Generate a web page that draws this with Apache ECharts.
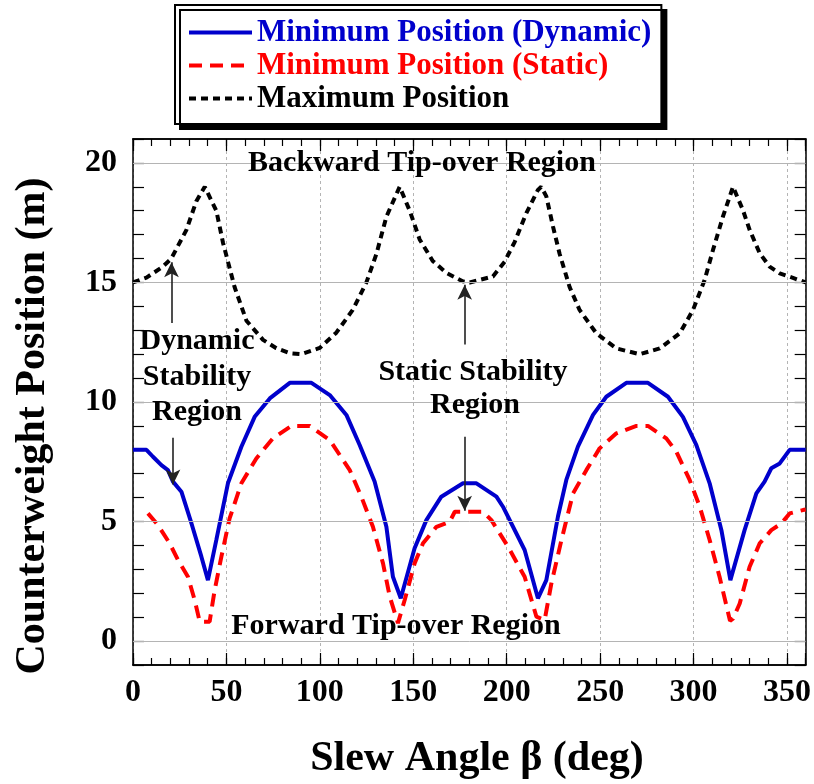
<!DOCTYPE html>
<html><head><meta charset="utf-8">
<script src="https://cdn.jsdelivr.net/npm/echarts@6/dist/echarts.min.js"></script>
<style>html,body{margin:0;padding:0;background:#fff}#c{width:814px;height:784px}</style>
</head><body><div id="c"></div>
<script>
// ---- data ----
const dynAngle = [0, 7.2, 10.7, 15.2, 18.7, 21.4, 25.9, 31.3, 36.6, 40.1, 44.6, 50.8, 58.0, 65.1, 73.2, 83.9, 95.5, 105.3, 114.2, 121.3, 129.3, 135.6, 139.1, 143.3, 150.7, 157.0, 165.0, 176.6, 183.8, 194.5, 198.0, 209.6, 216.7, 221.2, 227.4, 231.9, 238.1, 246.2, 253.3, 264.0, 275.6, 286.3, 294.3, 301.5, 308.6, 314.9, 319.7, 327.3, 333.6, 338.0, 341.6, 346.1, 351.4, 360];
const dynValue = [8.0, 8.0, 7.71, 7.36, 7.15, 6.67, 6.25, 4.92, 3.53, 2.55, 4.23, 6.6, 8.13, 9.38, 10.15, 10.8, 10.8, 10.29, 9.46, 8.2, 6.67, 4.78, 2.69, 1.79, 3.88, 5.06, 6.04, 6.6, 6.6, 6.04, 5.62, 3.81, 1.79, 2.55, 5.2, 6.74, 8.13, 9.46, 10.22, 10.8, 10.8, 10.22, 9.38, 8.2, 6.6, 4.64, 2.55, 4.64, 6.18, 6.67, 7.23, 7.43, 8.0, 8.0];

const staAngle = [8.0, 13.4, 19.6, 24.1, 29.4, 33.0, 35.7, 41.0, 43.7, 47.3, 51.7, 58.0, 66.0, 74.9, 84.8, 94.6, 105.3, 116.0, 122.2, 128.4, 133.8, 137.4, 141.8, 145.4, 150.7, 155.2, 162.4, 169.5, 172.2, 180, 187.3, 191.8, 200.7, 209.6, 215.9, 220.3, 223.9, 229.3, 235.5, 242.6, 249.7, 258.7, 269.4, 275.6, 285.4, 290.8, 297.9, 303.3, 308.6, 313.9, 319.5, 321.1, 324.7, 330.0, 335.4, 341.6, 347.0, 351.4, 358.5, 360];
const staValue = [5.34, 4.85, 4.09, 3.39, 2.69, 1.72, 0.81, 0.81, 2.13, 3.53, 5.13, 6.6, 7.64, 8.48, 9.0, 9.0, 8.41, 7.15, 6.04, 4.78, 3.25, 1.86, 0.75, 1.72, 3.25, 4.09, 4.78, 4.99, 5.41, 5.41, 5.41, 5.06, 3.95, 2.69, 1.02, 0.88, 2.41, 4.23, 6.18, 7.15, 8.06, 8.69, 9.0, 9.0, 8.48, 7.92, 6.74, 5.62, 4.23, 2.69, 0.85, 0.94, 1.57, 3.11, 4.09, 4.64, 4.92, 5.34, 5.48, 5.5];

const maxAngle = [0, 7.2, 15.9, 20.5, 28.6, 33.9, 38.4, 44.6, 48.2, 54.4, 60.7, 69.6, 76.7, 83.9, 90, 99.9, 108.8, 117.6, 124.9, 130.3, 135.6, 142.7, 148.1, 153.4, 160.4, 167.7, 176.4, 180.2, 192.6, 198.9, 204.3, 210.5, 216.7, 218.5, 221.2, 224.8, 228.3, 233.7, 239.0, 248.0, 258.7, 271.2, 281.9, 292.6, 299.7, 305.9, 310.4, 315.7, 321.1, 326.4, 330.0, 335.4, 340.7, 346.1, 353.2, 360];
const maxValue = [15.0, 15.2, 15.66, 16.0, 17.2, 18.4, 19.0, 18.0, 16.65, 14.8, 13.4, 12.6, 12.25, 12.04, 12.0, 12.26, 12.9, 13.85, 15.0, 16.2, 17.75, 19.0, 18.0, 16.8, 15.9, 15.4, 15.05, 15.0, 15.25, 15.87, 16.7, 17.9, 18.87, 19.0, 18.6, 17.33, 16.2, 14.8, 13.85, 12.87, 12.24, 12.0, 12.24, 12.87, 13.85, 15.1, 16.36, 17.75, 19.0, 18.03, 17.2, 16.22, 15.66, 15.38, 15.19, 15.0];

const seriesNames = ['Minimum Position (Dynamic)', 'Minimum Position (Static)', 'Maximum Position'];
const yGridValues = [0, 5, 10, 15, 20];
const yLabelValues = [0, 5, 10, 15, 20];
// annotation arrows (data coordinates): x, from y, to y (arrow head at "to")
const arrowX = [20.6, 21.4, 177.5, 177.5];
const arrowFrom = [13.3, 8.5, 12.4, 8.55];
const arrowTo = [15.85, 6.55, 14.9, 5.45];

// ---- chart ----
const FONT = '"Liberation Serif", "Times New Roman", serif';
const chart = echarts.init(document.getElementById('c'), null, {renderer: 'canvas'});
const zip = (a, b) => a.map((x, i) => [x, b[i]]);
const axisLineStyle = {show: true, onZero: false, lineStyle: {color: '#000', width: 1.5}};
const tickStyle = {color: '#000', width: 1.2};

function xAx(pos, interval, len, labels) {
  return {
    type: 'value', gridIndex: 0, position: pos, min: 0, max: 360, interval: interval,
    axisLine: axisLineStyle,
    axisTick: {show: true, inside: true, length: len, lineStyle: tickStyle},
    axisLabel: labels ? {show: true, margin: 12, color: '#000', fontFamily: FONT, fontWeight: 'bold', fontSize: 32,
      formatter: v => (v >= 360 ? '' : String(v))} : {show: false},
    splitLine: labels ? {show: true, lineStyle: {color: '#b4b4b4', type: [3, 3], width: 1}} : {show: false},
    minorTick: {show: false}
  };
}
function yAx(pos, labels) {
  return {
    type: 'value', gridIndex: 0, position: pos, min: -1, max: 21, interval: 1,
    axisLine: axisLineStyle,
    axisTick: {show: true, inside: true, length: 11, lineStyle: tickStyle},
    axisLabel: labels ? {show: true, margin: 16, color: '#000', fontFamily: FONT, fontWeight: 'bold', fontSize: 32,
      formatter: v => (yLabelValues.indexOf(v) >= 0 ? String(v) : '')} : {show: false},
    splitLine: {show: false}
  };
}

const option = {
  animation: false,
  backgroundColor: '#fff',
  grid: {left: 133, top: 139, right: 7, bottom: 119, containLabel: false},
  legend: {
    left: 175, top: 5, orient: 'vertical',
    padding: [11, 10, 9, 12], itemGap: 0, itemWidth: 63, itemHeight: 14,
    backgroundColor: '#fff', borderColor: '#000', borderWidth: 2, borderRadius: 0,
    shadowColor: '#000', shadowOffsetX: 5, shadowOffsetY: 5, shadowBlur: 0,
    selectedMode: false,
    itemStyle: {opacity: 0},
    lineStyle: {width: 4},
    textStyle: {fontFamily: FONT, fontWeight: 'bold', fontSize: 31, lineHeight: 33},
    data: [
      {name: seriesNames[0], textStyle: {color: '#0000CC'}},
      {name: seriesNames[1], textStyle: {color: '#FF0000'}},
      {name: seriesNames[2], textStyle: {color: '#000000'}}
    ]
  },
  xAxis: [xAx('bottom', 50, 12, true), xAx('bottom', 10, 7, false), xAx('top', 50, 12, false), xAx('top', 10, 7, false)],
  yAxis: [yAx('left', true), yAx('right', false)],
  series: [
    {
      type: 'line', name: '_grid', data: [], z: 1, silent: true,
      markLine: {silent: true, symbol: 'none', label: {show: false}, animation: false,
        lineStyle: {color: '#b4b4b4', type: 'solid', width: 1},
        data: yGridValues.map(v => ({yAxis: v}))}
    },
    {
      type: 'line', name: seriesNames[0], data: zip(dynAngle, dynValue), z: 3,
      symbol: 'none', showSymbol: false, smooth: false,
      lineStyle: {color: '#0000CC', width: 4, type: 'solid'}, itemStyle: {color: '#0000CC'}
    },
    {
      type: 'line', name: seriesNames[1], data: zip(staAngle, staValue), z: 3,
      symbol: 'none', showSymbol: false,
      lineStyle: {color: '#FF0000', width: 4, type: [13, 8]}, itemStyle: {color: '#FF0000'}
    },
    {
      type: 'line', name: seriesNames[2], data: zip(maxAngle, maxValue), z: 3,
      symbol: 'none', showSymbol: false,
      lineStyle: {color: '#000000', width: 4, type: [7, 5]}, itemStyle: {color: '#000'}
    },
    {
      type: 'line', name: '_arrows', data: [], z: 5, silent: true,
      markLine: {silent: true, symbol: ['none', 'arrow'], symbolSize: [11, 15], label: {show: false}, animation: false,
        lineStyle: {color: '#222', type: 'solid', width: 1.6},
        data: arrowX.map((x, i) => [{coord: [x, arrowFrom[i]]}, {coord: [x, arrowTo[i]]}])}
    }
  ],
  graphic: [
    {type: 'text', z: 100, x: 422, y: 163, style: {text: 'Backward Tip-over Region', font: 'bold 30px ' + FONT, fill: '#000', textAlign: 'center', textVerticalAlign: 'middle', verticalAlign: 'middle'}},
    {type: 'text', z: 100, x: 396, y: 626, style: {text: 'Forward Tip-over Region', font: 'bold 30px ' + FONT, fill: '#000', textAlign: 'center', textVerticalAlign: 'middle', verticalAlign: 'middle'}},
    {type: 'text', z: 100, x: 197, y: 341, style: {text: 'Dynamic', font: 'bold 30px ' + FONT, fill: '#000', textAlign: 'center', textVerticalAlign: 'middle', verticalAlign: 'middle'}},
    {type: 'text', z: 100, x: 197, y: 377, style: {text: 'Stability', font: 'bold 30px ' + FONT, fill: '#000', textAlign: 'center', textVerticalAlign: 'middle', verticalAlign: 'middle'}},
    {type: 'text', z: 100, x: 197, y: 412, style: {text: 'Region', font: 'bold 30px ' + FONT, fill: '#000', textAlign: 'center', textVerticalAlign: 'middle', verticalAlign: 'middle'}},
    {type: 'text', z: 100, x: 473, y: 372, style: {text: 'Static Stability', font: 'bold 30px ' + FONT, fill: '#000', textAlign: 'center', textVerticalAlign: 'middle', verticalAlign: 'middle'}},
    {type: 'text', z: 100, x: 475, y: 405, style: {text: 'Region', font: 'bold 30px ' + FONT, fill: '#000', textAlign: 'center', textVerticalAlign: 'middle', verticalAlign: 'middle'}},
    {type: 'text', z: 100, x: 477, y: 759, style: {text: 'Slew Angle \u03B2 (deg)', font: 'bold 42px ' + FONT, fill: '#000', textAlign: 'center', textVerticalAlign: 'middle', verticalAlign: 'middle'}},
    {type: 'text', z: 100, x: 33, y: 426, rotation: Math.PI / 2, style: {text: 'Counterweight Position (m)', font: 'bold 42px ' + FONT, fill: '#000', textAlign: 'center', textVerticalAlign: 'middle', verticalAlign: 'middle'}}
  ]
};
chart.setOption(option);
</script></body></html>
